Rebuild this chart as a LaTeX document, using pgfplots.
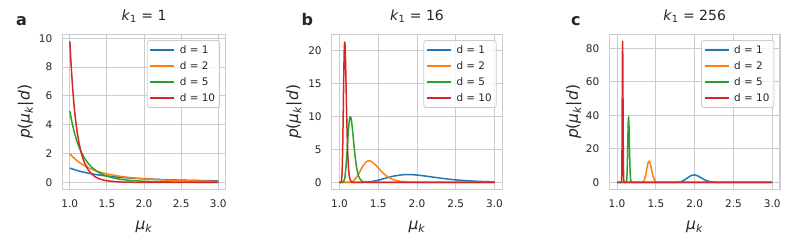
\documentclass[border=0pt]{standalone}
\usepackage{fontspec}
\setmainfont{DejaVu Sans}[ItalicFont={DejaVu Sans Oblique},BoldFont={DejaVu Sans Bold},BoldItalicFont={DejaVu Sans Bold Oblique}]
\usepackage{pgfplots}
\pgfplotsset{compat=1.18}
\definecolor{c1}{HTML}{1F77B4}
\definecolor{c2}{HTML}{FF7F0E}
\definecolor{c3}{HTML}{2CA02C}
\definecolor{c4}{HTML}{D62728}
\definecolor{spine}{HTML}{CCCCCC}
\definecolor{txt}{HTML}{262626}
\newcommand{\mk}{\textit{μ}\textsubscript{\textit{k}}}
\pgfplotsset{
  panel/.style={
    scale only axis, height=155.2pt,
    xmin=0.9, xmax=3.1,
    xtick={1,1.5,2,2.5,3}, xticklabels={1.0,1.5,2.0,2.5,3.0},
    axis line style={draw=spine, line width=1.25pt},
    grid=major, major grid style={draw=spine, line width=1pt},
    major tick length=0pt,
    /pgf/number format/assume math mode=true,
    tick label style={font=\fontsize{10.5}{12}\selectfont, text=txt},
    xticklabel style={yshift=-6.5pt},
    yticklabel style={xshift=-6.5pt},
    xlabel={\mk},
    ylabel={\textit{p}(\mk|\textit{d})},
    label style={font=\fontsize{15.5}{17}\selectfont, text=txt},
    xlabel style={at={(axis description cs:0.5,0)}, anchor=base, yshift=-39.5pt},
    title style={at={(axis description cs:0.5,1)}, anchor=base, yshift=8pt, font=\fontsize{14}{16}\selectfont, text=txt},
    legend style={at={(axis description cs:1,1)}, anchor=north east, xshift=-5.7pt, yshift=-5.7pt, draw=spine, line width=0.8pt, rounded corners=2.5pt, fill=white, fill opacity=0.8, text opacity=1, font=\fontsize{10.4}{12}\selectfont, text=txt, inner xsep=2.5pt, inner ysep=3pt, row sep=2.54pt, column sep=2.7pt, cells={anchor=west}, nodes={inner sep=2pt, text depth=0.15em}},
    legend image code/.code={\draw[#1, line width=1.5pt, sharp corners] (0pt,0pt) -- (24pt,0pt);},
    every axis plot/.append style={line width=1.5pt, line join=round},
  }
}
\begin{document}
\begin{tikzpicture}
\useasboundingbox (0,0) rectangle (793pt,247pt);
% ---------------- panel a ----------------
\begin{axis}[panel, at={(62.3pt,57.5pt)}, anchor=south west, width=163.4pt,
  ymin=-0.49, ymax=10.27, ytick={0,2,4,6,8,10},
  title={\textit{k}\textsubscript{1} = 1},
  ylabel style={at={(axis description cs:-0.2,0.5)}, anchor=base}]
\addplot[c1, line width=1.5pt, no marks] coordinates {(1.002,0.99601)(1.0125,0.97546)(1.025,0.95181)(1.0375,0.92902)(1.05,0.90703)(1.0625,0.88581)(1.075,0.86533)(1.0875,0.84555)(1.1,0.82645)(1.125,0.79012)(1.15,0.75614)(1.175,0.72431)(1.2,0.69444)(1.25,0.64)(1.3,0.59172)(1.35,0.54870)(1.4,0.51020)(1.45,0.47562)(1.5,0.44444)(1.6,0.39063)(1.7,0.34602)(1.8,0.30864)(2.0,0.25)(2.2,0.20661)(2.4,0.17361)(2.6,0.14793)(2.8,0.12755)(3.0,0.11111)};
\addlegendentry{d = 1}
\addplot[c2, line width=1.5pt, no marks] coordinates {(1.002,1.98805)(1.0125,1.92684)(1.025,1.85720)(1.0375,1.79087)(1.05,1.72768)(1.0625,1.66741)(1.075,1.60992)(1.0875,1.55503)(1.1,1.50263)(1.125,1.40466)(1.15,1.31503)(1.175,1.23287)(1.2,1.15741)(1.25,1.024)(1.3,0.91033)(1.35,0.81288)(1.4,0.72886)(1.45,0.65603)(1.5,0.59259)(1.6,0.48828)(1.7,0.40708)(1.8,0.34294)(2.0,0.25)(2.2,0.18783)(2.4,0.14468)(2.6,0.11379)(2.8,0.09111)(3.0,0.07407)};
\addlegendentry{d = 2}
\addplot[c3, line width=1.5pt, no marks] coordinates {(1.002,4.94042)(1.0125,4.64089)(1.025,4.31149)(1.0375,4.00897)(1.05,3.73108)(1.0625,3.47530)(1.075,3.23977)(1.0875,3.02265)(1.1,2.82237)(1.125,2.46635)(1.15,2.16164)(1.175,1.89995)(1.2,1.67449)(1.25,1.31072)(1.3,1.03588)(1.35,0.82597)(1.4,0.66405)(1.45,0.53797)(1.5,0.43896)(1.6,0.29802)(1.7,0.20715)(1.8,0.14701)(2.0,0.07813)(2.2,0.04410)(2.4,0.02616)(2.6,0.01619)(2.8,0.01038)(3.0,0.00686)};
\addlegendentry{d = 5}
\addplot[c4, line width=1.5pt, no marks] coordinates {(1.002,9.78262)(1.0125,8.72280)(1.025,7.62145)(1.0375,6.67007)(1.05,5.84679)(1.0625,5.13310)(1.075,4.51341)(1.0875,3.97448)(1.1,3.50494)(1.125,2.73730)(1.15,2.14943)(1.175,1.69662)(1.2,1.34588)(1.25,0.85899)(1.3,0.55799)(1.35,0.36841)(1.4,0.24694)(1.45,0.16786)(1.5,0.11561)(1.6,0.05684)(1.7,0.02918)(1.8,0.01556)(2.0,0.00488)(2.2,0.00171)(2.4,0.00066)(2.6,0.00027)(2.8,0.00012)(3.0,0.00006)};
\addlegendentry{d = 10}
\end{axis}
% ---------------- panel b ----------------
\begin{axis}[panel, at={(331.7pt,57.5pt)}, anchor=south west, width=170.6pt,
  ymin=-1.07, ymax=22.45, ytick={0,5,10,15,20},
  title={\textit{k}\textsubscript{1} = 16},
  ylabel style={at={(axis description cs:-0.197,0.5)}, anchor=base}]
\addplot[c1, line width=1.5pt, no marks] coordinates {(1.0,0)(1.1,0)(1.2,0.00046)(1.3,0.01558)(1.4,0.10885)(1.5,0.34014)(1.6,0.66442)(1.7,0.96411)(1.8,1.14722)(1.85,1.18524)(1.9,1.18998)(1.95,1.16621)(2.0,1.11961)(2.1,0.98152)(2.2,0.81701)(2.3,0.65446)(2.4,0.50954)(2.5,0.38843)(2.6,0.29153)(2.7,0.21633)(2.8,0.15924)(2.9,0.11657)(3.0,0.08504)};
\addlegendentry{d = 1}
\addplot[c2, line width=1.5pt, no marks] coordinates {(1.0,0)(1.05,0)(1.095445,0.00101)(1.140175,0.03553)(1.183216,0.25759)(1.224745,0.83316)(1.264911,1.68087)(1.303840,2.51409)(1.341641,3.07831)(1.360147,3.22420)(1.378405,3.28055)(1.396424,3.25705)(1.414214,3.16674)(1.449138,2.84472)(1.483240,2.42363)(1.516575,1.98507)(1.549193,1.57875)(1.581139,1.22831)(1.612452,0.94016)(1.643168,0.71093)(1.673320,0.53293)(1.732051,0.29457)(1.788854,0.16113)(1.870829,0.06516)(2.0,0.01496)(2.121320,0.00370)(2.236068,0.00099)(2.449490,0.0001)(3.0,0)};
\addlegendentry{d = 2}
\addplot[c3, line width=1.5pt, no marks] coordinates {(1.0,0)(1.02,0)(1.037137,0.00266)(1.053875,0.09611)(1.069611,0.71236)(1.084472,2.35232)(1.098560,4.83841)(1.111962,7.36978)(1.124747,9.17983)(1.130926,9.69425)(1.136974,9.94290)(1.142898,9.94884)(1.148697,9.74676)(1.159963,8.88474)(1.170804,7.67598)(1.181260,6.37137)(1.191357,5.13235)(1.201124,4.04234)(1.210583,3.13065)(1.219757,2.39426)(1.228659,1.81451)(1.245731,1.02391)(1.261913,0.57102)(1.284738,0.23723)(1.319507,0.05670)(1.350734,0.01451)(1.379730,0.00402)(1.430969,0.0003)(3.0,0)};
\addlegendentry{d = 5}
\addplot[c4, line width=1.5pt, no marks] coordinates {(1.0,0)(1.01,0)(1.018399,0.00542)(1.026584,0.19733)(1.034220,1.47348)(1.041380,4.89931)(1.048122,10.14258)(1.054496,15.5427)(1.060541,19.4710)(1.063450,20.6185)(1.066290,21.2038)(1.069064,21.2720)(1.071773,20.8926)(1.077016,19.1379)(1.082037,16.6113)(1.086858,13.8494)(1.091493,11.2038)(1.095958,8.86039)(1.100265,6.88905)(1.104426,5.28857)(1.108449,4.02259)(1.116123,2.28563)(1.123349,1.28291)(1.133463,0.53778)(1.148698,0.13025)(1.162211,0.03372)(1.174619,0.00945)(1.196231,0.0009)(3.0,0)};
\addlegendentry{d = 10}
\end{axis}
% ---------------- panel c ----------------
\begin{axis}[panel, at={(609.3pt,57.5pt)}, anchor=south west, width=170.7pt,
  ymin=-4.21, ymax=88.36, ytick={0,20,40,60,80},
  title={\textit{k}\textsubscript{1} = 256},
  ylabel style={at={(axis description cs:-0.184,0.5)}, anchor=base}]
\addplot[c1, line width=1.5pt, no marks] coordinates {(1.0,0)(1.6,0)(1.70195,0.00215)(1.73367,0.01344)(1.76688,0.06532)(1.80157,0.24718)(1.83782,0.72840)(1.87572,1.67171)(1.91533,2.98803)(1.95673,4.15942)(2.0,4.5093)(2.04523,3.80724)(2.09251,2.50344)(2.14192,1.28201)(2.19357,0.51130)(2.24756,0.15881)(2.30399,0.03842)(2.36302,0.00724)(2.42461,0.00106)(2.5,0)(3.0,0)};
\addlegendentry{d = 1}
\addplot[c2, line width=1.5pt, no marks] coordinates {(1.0,0)(1.25,0)(1.30459,0.00561)(1.31669,0.03540)(1.32924,0.17366)(1.34223,0.66354)(1.35566,1.97494)(1.36957,4.57906)(1.38395,8.27045)(1.39883,11.6366)(1.41421,12.7542)(1.43012,10.8896)(1.44655,7.24268)(1.46353,3.75251)(1.48107,1.51454)(1.49919,0.47618)(1.51789,0.11662)(1.53721,0.02224)(1.55712,0.00330)(1.6,0)(3.0,0)};
\addlegendentry{d = 2}
\addplot[c3, line width=1.5pt, no marks] coordinates {(1.0,0)(1.1,0)(1.112217,0.01646)(1.116332,0.10438)(1.120576,0.51498)(1.124943,1.97925)(1.129434,5.92628)(1.134055,13.8250)(1.138804,25.1276)(1.143685,35.5818)(1.148698,39.2558)(1.153847,33.7423)(1.159133,22.5965)(1.164557,11.7896)(1.170119,4.79254)(1.175823,1.51785)(1.181668,0.37452)(1.187663,0.07198)(1.193791,0.01076)(1.2,0)(3.0,0)};
\addlegendentry{d = 5}
\addplot[c4, line width=1.5pt, no marks] coordinates {(1.0,0)(1.05,0)(1.054617,0.03472)(1.056566,0.22057)(1.058573,1.09029)(1.060633,4.19851)(1.062748,12.5964)(1.064918,29.4452)(1.067147,53.6295)(1.069431,76.1043)(1.071773,84.1466)(1.074172,72.4897)(1.076629,48.6556)(1.079145,25.4454)(1.081719,10.3684)(1.084353,3.29177)(1.087044,0.81424)(1.089797,0.15689)(1.092605,0.02351)(1.1,0)(3.0,0)};
\addlegendentry{d = 10}
\end{axis}
\node[anchor=base west, font=\bfseries\fontsize{16}{18}\selectfont, text=txt, inner sep=0pt] at (16pt,222pt) {a};
\node[anchor=base west, font=\bfseries\fontsize{16}{18}\selectfont, text=txt, inner sep=0pt] at (301.5pt,222pt) {b};
\node[anchor=base west, font=\bfseries\fontsize{16}{18}\selectfont, text=txt, inner sep=0pt] at (571pt,222pt) {c};
\end{tikzpicture}
\end{document}
